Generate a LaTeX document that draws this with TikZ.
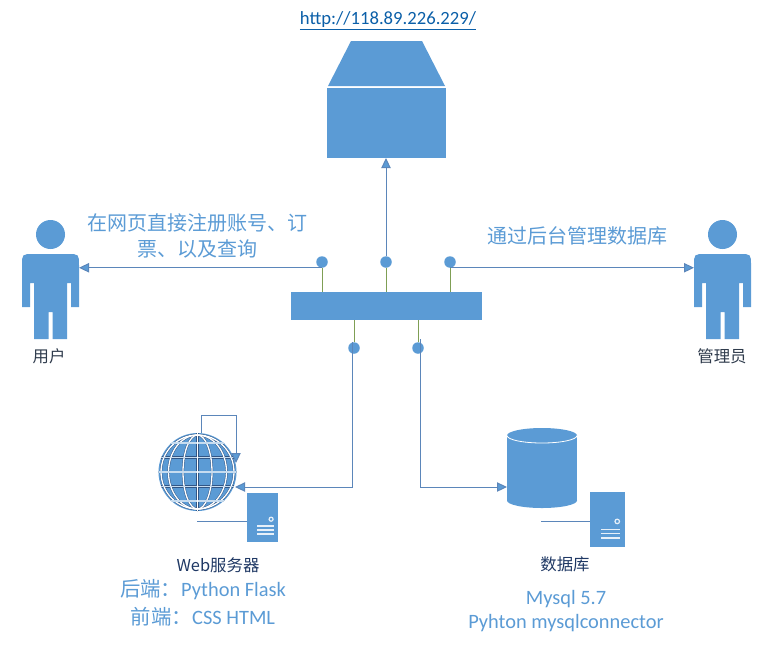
\documentclass[tikz,border=0pt]{standalone}
\usepackage{fontspec}
\setmainfont{Carlito}
\newfontfamily\cjk{Noto Sans CJK SC}
\usepackage{xcolor}
\definecolor{cMain}{HTML}{5B9BD5}
\definecolor{cLine}{HTML}{5B86BA}
\definecolor{cWire}{HTML}{7F9F55}
\definecolor{cDark}{HTML}{1F3864}
\definecolor{cUrl}{HTML}{0B5FA8}
\definecolor{cText}{HTML}{2F3B4C}
\usepackage{tikz}
\usetikzlibrary{positioning,arrows.meta,calc}
\def\px{0.75pt}
\tikzset{
  node-solid/.style={fill=cMain,inner sep=0pt,outer sep=0pt},
  node-dot/.style={node-solid,circle,minimum size=11.5*\px},
  node-hit/.style={inner sep=0pt,outer sep=0pt},
  arrow/.style={-{Triangle[length=7.5pt,width=7pt,fill=cMain]},draw=cLine,line width=0.75pt},
  link/.style={draw=cLine,line width=0.75pt},
  wire/.style={draw=cWire,line width=0.65pt},
  grid-under/.style={draw=cDark!70!cMain,line width=1.7pt},
  grid-over/.style={draw=white,line width=1pt},
  label-blue/.style={text=cMain,align=center,font=\fontsize{15}{19.5}\selectfont\cjk},
  label-tech/.style={text=cMain,align=center,font=\fontsize{15.3}{18}\selectfont},
  label-dark/.style={text=cText,font=\fontsize{12.3}{14}\selectfont\cjk},
}
% 人形、机箱的细节，坐标相对于节点中心
\newcommand\personbody[1]{%
  \begin{scope}[shift={(#1.center)}]
    \fill[cMain] (0,-45) circle[radius=14.5];
    \fill[cMain] (-28.5,27.5) -- (-28.5,-14) .. controls (-28.5,-25.5) and (-28.5,-25.5) .. (-17,-25.5)
      -- (17,-25.5) .. controls (28.5,-25.5) and (28.5,-25.5) .. (28.5,-14)
      -- (28.5,27.5) -- (20.5,27.5) -- (20.5,3.5) -- (16.5,3.5) -- (16.5,59.5) -- (2,59.5) -- (2,32.5)
      -- (-2,32.5) -- (-2,59.5) -- (-16.5,59.5) -- (-16.5,3.5) -- (-20.5,3.5) -- (-20.5,27.5) -- cycle;
  \end{scope}}
\newcommand\rackmarks[2]{%
  \begin{scope}[shift={(#1.center)},scale=#2]
    \draw[white!85!cMain,line width=0.9pt] (8.6,1.7) circle[radius=2];
    \foreach \yb in {8.7,12.4,16.2}
      \draw[white!85!cMain,line width=1.2pt] (-5.4,\yb) -- (11.3,\yb);
  \end{scope}}
\begin{document}
\begin{tikzpicture}[x=0.75pt,y=-0.75pt]
  \useasboundingbox (0,0) rectangle (773,647);
  % 顶部网站
  \node[node-hit,text=cUrl,font=\fontsize{14}{16}\selectfont] (url) at (388,21) {\underline{http://118.89.226.229/}};
  \node[node-solid,minimum width=119*\px,minimum height=70*\px] (site) at (386.5,123) {};
  \fill[cMain] ($(site.north west)+(1,-2)$) -- ++(23,-45) -- ++(71,0) -- ($(site.north east)+(-1,-2)$) -- cycle;
  % 中间总线与连接点
  \node[node-solid,minimum width=191*\px,minimum height=28*\px] (bus) at (386.5,306) {};
  \node[node-dot] (dotA) at (322,262) {};
  \node[node-dot] (dotB) at (386,262) {};
  \node[node-dot] (dotC) at (450,262) {};
  \node[node-dot] (dotD) at (354,348) {};
  \node[node-dot] (dotE) at (418,348) {};
  \draw[wire] (dotA) -- (dotA |- bus.north);
  \draw[wire] (dotB) -- (dotB |- bus.north);
  \draw[wire] (dotC) -- (dotC |- bus.north);
  \draw[wire] (dotD) -- (dotD |- bus.south);
  \draw[wire] (dotE) -- (dotE |- bus.south);
  % 用户与管理员
  \node[node-hit,minimum width=57*\px,minimum height=119*\px] (user) at (50.5,279.5) {};
  \node[node-hit,minimum width=57*\px,minimum height=119*\px] (admin) at (722.5,279.5) {};
  \personbody{user}
  \personbody{admin}
  \node[label-dark] (userlabel) at (49,356) {用户};
  \node[label-dark] (adminlabel) at (722,356) {管理员};
  \node[label-blue] (usertext) at (197,236) {在网页直接注册账号、订\\票、以及查询};
  \node[label-blue] (admintext) at (577,236) {通过后台管理数据库};
  % Web 服务器
  \node[node-solid,circle,minimum size=78*\px,path picture={
      \foreach \rx in {14.5,29,36.5}
        \draw[grid-under] (path picture bounding box.center) ellipse[x radius=\rx,y radius=37];
      \foreach \yb in {-29,-14.5,0,14.5,29}
        \draw[grid-under] (-40,\yb) -- (40,\yb);
      \draw[grid-under] (0,-40) -- (0,40);
      \foreach \rx in {14.5,29,36.5}
        \draw[grid-over] (path picture bounding box.center) ellipse[x radius=\rx,y radius=37];
      \foreach \yb in {-29,-14.5,0,14.5,29}
        \draw[grid-over,draw=white!65!cMain] (-40,\yb) -- (40,\yb);
      \draw[grid-over] (0,-40) -- (0,40);
    }] (globe) at (197.5,472) {};
  \coordinate (loopout) at (201,433);
  \coordinate (loopin) at (236,463);
  \coordinate (webin) at (235,487);
  \node[node-solid,minimum width=31*\px,minimum height=49*\px] (webrack) at (262.5,517.5) {};
  \rackmarks{webrack}{1}
  \coordinate (webfoot) at (197,521);
  \draw[link] (webfoot) -- (webfoot -| webrack.west);
  \draw[arrow] (loopout) -- ++(0,-18) -| (loopin);
  \draw[arrow] ($(dotD.north)+(-1.5,0)$) |- (webin);
  \node[node-hit,text=cDark,font=\fontsize{12.3}{14}\selectfont\cjk] (weblabel) at (218,565) {Web服务器};
  \node[label-tech] (webback) at (203,590) {{\cjk 后端：}Python Flask};
  \node[label-tech] (webfront) at (203,617) {{\cjk 前端：}CSS HTML};
  % 数据库
  \node[node-hit,minimum width=70*\px,minimum height=80*\px] (db) at (542,468) {};
  \fill[cMain] (507,435.5) rectangle (577,500.5);
  \fill[cMain] (542,435.5) ellipse[x radius=35,y radius=7.5];
  \fill[cMain] (542,500.5) ellipse[x radius=35,y radius=7.5];
  \draw[white,line width=0.6pt] (507,435.5) arc[start angle=180,end angle=0,x radius=35,y radius=7.5];
  \coordinate (dbin) at (507,487);
  \draw[arrow] ($(dotE.north)+(2,-3)$) |- (dbin);
  \node[node-solid,minimum width=35*\px,minimum height=55*\px] (dbrack) at (607.5,519.5) {};
  \rackmarks{dbrack}{1.13}
  \coordinate (dbfoot) at (541,521);
  \draw[link] (dbfoot) -- (dbfoot -| dbrack.west);
  \node[label-dark,text=cDark] (dblabel) at (565,564) {数据库};
  \node[label-tech] (dbver) at (566,599) {Mysql 5.7};
  \node[label-tech] (dbconn) at (566,623) {Pyhton mysqlconnector};
  % 连接线
  \draw[arrow] (dotB) -- (dotB |- site.south);
  \draw[arrow] (dotA.south) -- (user.east |- dotA.south);
  \draw[arrow] (dotC.south) -- (admin.west |- dotC.south);
\end{tikzpicture}
\end{document}
